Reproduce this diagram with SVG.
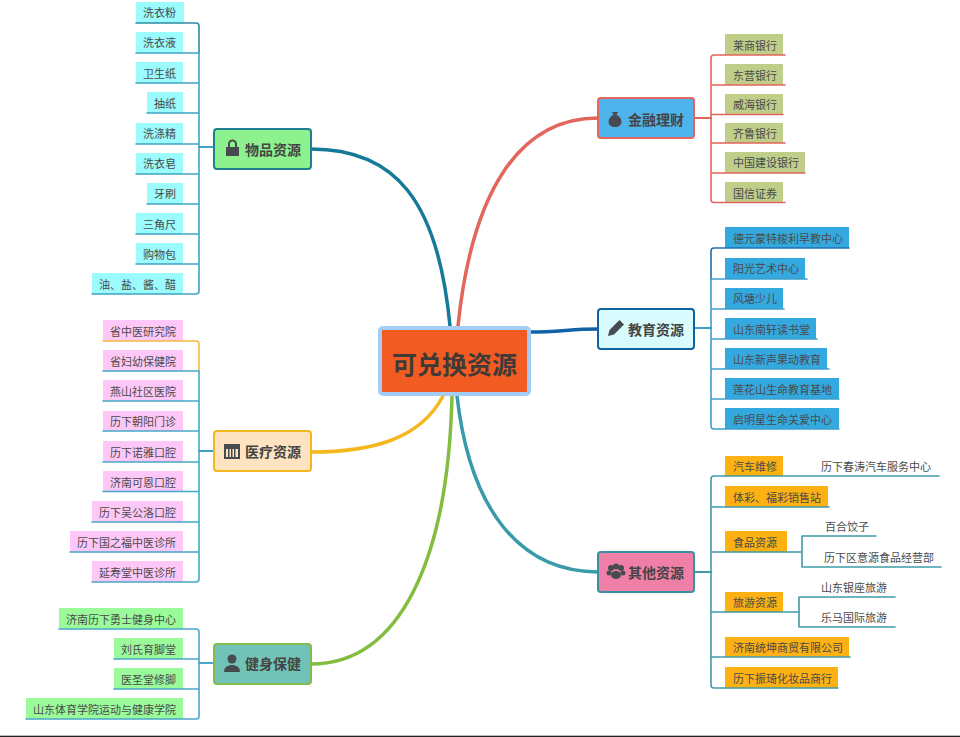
<svg xmlns="http://www.w3.org/2000/svg" width="960" height="737" viewBox="0 0 960 737">
<style>
text{font-family:"Noto Sans CJK SC","Liberation Sans",sans-serif;fill:#4a4a4a}
.l{font-size:11px;text-anchor:end}
.r{font-size:11px}
.t{font-size:14px;font-weight:700;fill:#444}
.c{font-size:25px;font-weight:700;fill:#3f3a38;text-anchor:middle}
.m{fill:none;stroke-width:3.5;stroke-linecap:round}
.b{fill:none;stroke-width:1.6;stroke-linecap:round;stroke-linejoin:round}
.k{fill:none;stroke-width:2.2;stroke-linecap:round}
.i{fill:#474b4f}
</style>
<rect width="960" height="737" fill="#fff"/>
<rect y="735.7" width="960" height="1.3" fill="#222"/>
<g id="goods-leaves" fill="#9bfbfd">
<rect x="136" y="2" width="48" height="21"/><rect x="136" y="32" width="47" height="21"/><rect x="136" y="62" width="47" height="21"/><rect x="147" y="92" width="36" height="21"/><rect x="136" y="123" width="47" height="21"/><rect x="136" y="153" width="47" height="21"/><rect x="147" y="183" width="36" height="21"/><rect x="136" y="213" width="47" height="21"/><rect x="136" y="243" width="47" height="21"/><rect x="92" y="273" width="91" height="21"/>
<text class="l" x="176" y="17">洗衣粉</text><text class="l" x="176" y="47">洗衣液</text><text class="l" x="176" y="78">卫生纸</text><text class="l" x="176" y="108">抽纸</text><text class="l" x="176" y="138">洗涤精</text><text class="l" x="176" y="168">洗衣皂</text><text class="l" x="176" y="198">牙刷</text><text class="l" x="176" y="229">三角尺</text><text class="l" x="176" y="259">购物包</text><text class="l" x="176" y="289">油、盐、酱、醋</text></g>
<g id="medical-leaves" fill="#fdc8f8">
<rect x="103" y="320" width="80" height="21"/><rect x="103" y="350" width="80" height="21"/><rect x="103" y="380" width="80" height="21"/><rect x="103" y="411" width="80" height="20"/><rect x="103" y="441" width="80" height="21"/><rect x="103" y="471" width="80" height="20.500"/><rect x="92" y="501" width="91" height="21"/><rect x="70" y="531" width="113" height="21"/><rect x="92" y="561" width="91" height="21"/>
<text class="l" x="176" y="336">省中医研究院</text><text class="l" x="176" y="366">省妇幼保健院</text><text class="l" x="176" y="396">燕山社区医院</text><text class="l" x="176" y="426">历下朝阳门诊</text><text class="l" x="176" y="457">历下诺雅口腔</text><text class="l" x="176" y="487">济南可恩口腔</text><text class="l" x="176" y="517">历下吴公洛口腔</text><text class="l" x="176" y="547">历下国之福中医诊所</text><text class="l" x="176" y="577">延寿堂中医诊所</text></g>
<g id="fitness-leaves" fill="#9bfb9b">
<rect x="59" y="608" width="124" height="21"/><rect x="114" y="638" width="69" height="21"/><rect x="114" y="668" width="69" height="21"/><rect x="26" y="698" width="157" height="21"/>
<text class="l" x="176" y="624">济南历下勇士健身中心</text><text class="l" x="176" y="654">刘氏育脚堂</text><text class="l" x="176" y="684">医圣堂修脚</text><text class="l" x="176" y="714">山东体育学院运动与健康学院</text></g>
<g id="finance-leaves" fill="#bfcf8a">
<rect x="725" y="34" width="58" height="21"/><rect x="725" y="64" width="58" height="21"/><rect x="725" y="94" width="58" height="20.500"/><rect x="725" y="123" width="58" height="20"/><rect x="725" y="152" width="80" height="21"/><rect x="725" y="182" width="58" height="20.500"/>
<text class="r" x="733" y="50">莱商银行</text><text class="r" x="733" y="80">东营银行</text><text class="r" x="733" y="109">威海银行</text><text class="r" x="733" y="138">齐鲁银行</text><text class="r" x="733" y="167">中国建设银行</text><text class="r" x="733" y="198">国信证券</text></g>
<g id="edu-leaves" fill="#34a9e0">
<rect x="725" y="227" width="124" height="21"/><rect x="725" y="258" width="80" height="21"/><rect x="725" y="288" width="58" height="21"/><rect x="725" y="318" width="91" height="21"/><rect x="725" y="348" width="102" height="21"/><rect x="725" y="378" width="114" height="21"/><rect x="725" y="408" width="114" height="21"/>
<text class="r" x="733" y="243">德元蒙特梭利早教中心</text><text class="r" x="733" y="273">阳光艺术中心</text><text class="r" x="733" y="303">风塘少儿</text><text class="r" x="733" y="334">山东南轩读书堂</text><text class="r" x="733" y="364">山东新声果动教育</text><text class="r" x="733" y="394">莲花山生命教育基地</text><text class="r" x="733" y="424">启明星生命关爱中心</text></g>
<g id="other-leaves" fill="#fdb113">
<rect x="725" y="456" width="58" height="20"/><rect x="725" y="486" width="103" height="21"/><rect x="725" y="531" width="62" height="21"/><rect x="725" y="592" width="58" height="20"/><rect x="725" y="637" width="124" height="20"/><rect x="725" y="667" width="113" height="21"/>
<text class="r" x="733" y="471">汽车维修</text><text class="r" x="733" y="502">体彩、福彩销售站</text><text class="r" x="733" y="547">食品资源</text><text class="r" x="733" y="607">旅游资源</text><text class="r" x="733" y="652">济南统坤商贸有限公司</text><text class="r" x="733" y="683">历下振琦化妆品商行</text>
<text class="r" x="821" y="471">历下春涛汽车服务中心</text><text class="r" x="825" y="531">百合饺子</text><text class="r" x="824" y="562">历下区意源食品经营部</text><text class="r" x="821" y="592">山东银座旅游</text><text class="r" x="821" y="622">乐马国际旅游</text></g>
<g id="connectors">
<path class="m" stroke="#157a97" d="M311 149C395 149 438 200 450 326"/>
<path class="m" stroke="#f4b81e" d="M311 452C370 452 420 440 443 396"/>
<path class="m" stroke="#83bc3f" d="M311 664C400 664 448 560 452 396"/>
<path class="m" stroke="#e2665b" d="M458 326C472 190 520 118 598 118"/>
<path class="m" stroke="#0e62a5" d="M530 332C560 332 570 329 598 329"/>
<path class="m" stroke="#3a9aaa" d="M457 396C470 510 520 572 598 572"/>
<g stroke="#3fa4c4">
<path class="k" d="M199 147H214"/>
<path class="b" stroke="#2f8aa6" d="M136 23H196Q199 23 199 26V53"/>
<path class="b" d="M199 53V291Q199 294 196 294H92M136 53H199M136 83H199M147 113H199M136 144H199M136 174H199M147 204H199M136 234H199M136 264H199"/>
</g>
<g stroke="#45a8c8">
<path class="k" stroke="#3fa0c0" d="M199 451H214"/>
<path class="b" stroke="#f4b942" d="M103 341H196Q199 341 199 344V371"/>
<path class="b" d="M103 371H199V579Q199 582 196 582H92M103 401H199M103 431H199M103 462H199M103 491.500H199M92 522H199M70 552H199"/>
</g>
<g stroke="#4aa5c9">
<path class="k" d="M199 663H214"/>
<path class="b" d="M59 629H196Q199 629 199 632V716Q199 719 196 719H26M114 659H199M114 689H199"/>
</g>
<g stroke="#e2665b">
<path class="k" d="M694 118H711"/>
<path class="b" d="M725 55H714Q711 55 711 58V199.500Q711 202.500 714 202.500H785M725 55H785M711 85H785M711 114.500H783M711 143H785M711 173H805"/>
</g>
<g stroke="#3f9ecb">
<path class="k" d="M694 328H711"/>
<path class="b" stroke="#1f6fb0" d="M849 248H714Q711 248 711 251V279"/>
<path class="b" d="M711 279V426Q711 429 714 429H839M711 279H807M711 309H784M711 339H817M711 369H829M711 399H839"/>
</g>
<g stroke="#3f9aa8">
<path class="k" d="M694 572H711"/>
<path class="b" d="M725 476H714Q711 476 711 479V685Q711 688 714 688H838M711 507H829M711 552H725M711 612H725M711 657H850"/>
<path class="b" d="M725 476H939M725 552H802M802 536H876M802 536V567H941M725 612H799M799 597H895M799 597V627H895"/>
</g>
</g>
<g id="center"><rect x="380" y="328" width="149" height="66" rx="3" fill="#f25c22" stroke="#a3cdf5" stroke-width="4"/><text class="c" x="454.500" y="374">可兑换资源</text></g>
<g id="topic-goods"><rect x="214" y="129" width="97" height="40" rx="3" fill="#8df28d" stroke="#1f7f8e" stroke-width="2"/>
<path class="i" d="M226 156h13v-9h-2v-3a4.500 4.500 0 0 0-9 0v3h-2zM230 147v-3a2.500 2.500 0 0 1 5 0v3z" fill-rule="evenodd"/><text class="t" x="245" y="155">物品资源</text></g>
<g id="topic-medical"><rect x="214" y="431" width="97" height="40" rx="3" fill="#fde3c0" stroke="#f4b81e" stroke-width="2"/>
<path class="i" d="M224 444h16v15h-16zM226 449v8h12v-8z" fill-rule="evenodd"/><path class="i" d="M228 449h1.500v8h-1.500zM231 449h1.500v8h-1.500zM234 449h1.500v8h-1.500z"/><text class="t" x="245" y="457">医疗资源</text></g>
<g id="topic-fitness"><rect x="214" y="644" width="97" height="40" rx="3" fill="#72c3b7" stroke="#84bb4e" stroke-width="2"/>
<circle class="i" cx="232" cy="659" r="4.500"/><path class="i" d="M224 672c0-5 4-7 8-7s8 2 8 7z"/><text class="t" x="245" y="669">健身保健</text></g>
<g id="topic-finance"><rect x="598" y="98" width="96" height="40" rx="3" fill="#4fb4ec" stroke="#e2665b" stroke-width="2"/>
<path class="i" d="M612 112h6l-1.500 3c3 1 5 4 5 7 0 3-3 5-6.500 5s-6.500-2-6.500-5c0-3 2-6 5-7z"/><text class="t" x="628" y="125">金融理财</text></g>
<g id="topic-edu"><rect x="598" y="309" width="96" height="40" rx="3" fill="#d8fbfd" stroke="#10639f" stroke-width="2"/>
<path class="i" d="M608 336l1.500-6 10-10 4.500 4.500-10 10z"/><text class="t" x="628" y="335">教育资源</text></g>
<g id="topic-other"><rect x="598" y="552" width="96" height="40" rx="3" fill="#f07fa8" stroke="#3a8fa0" stroke-width="2"/>
<circle class="i" cx="611" cy="568" r="3"/><circle class="i" cx="616" cy="566.500" r="3"/><circle class="i" cx="621" cy="568" r="3"/><circle class="i" cx="609" cy="573" r="2.500"/><circle class="i" cx="623" cy="573" r="2.500"/><ellipse class="i" cx="616" cy="575" rx="5" ry="4"/><text class="t" x="628" y="578">其他资源</text></g>
</svg>
